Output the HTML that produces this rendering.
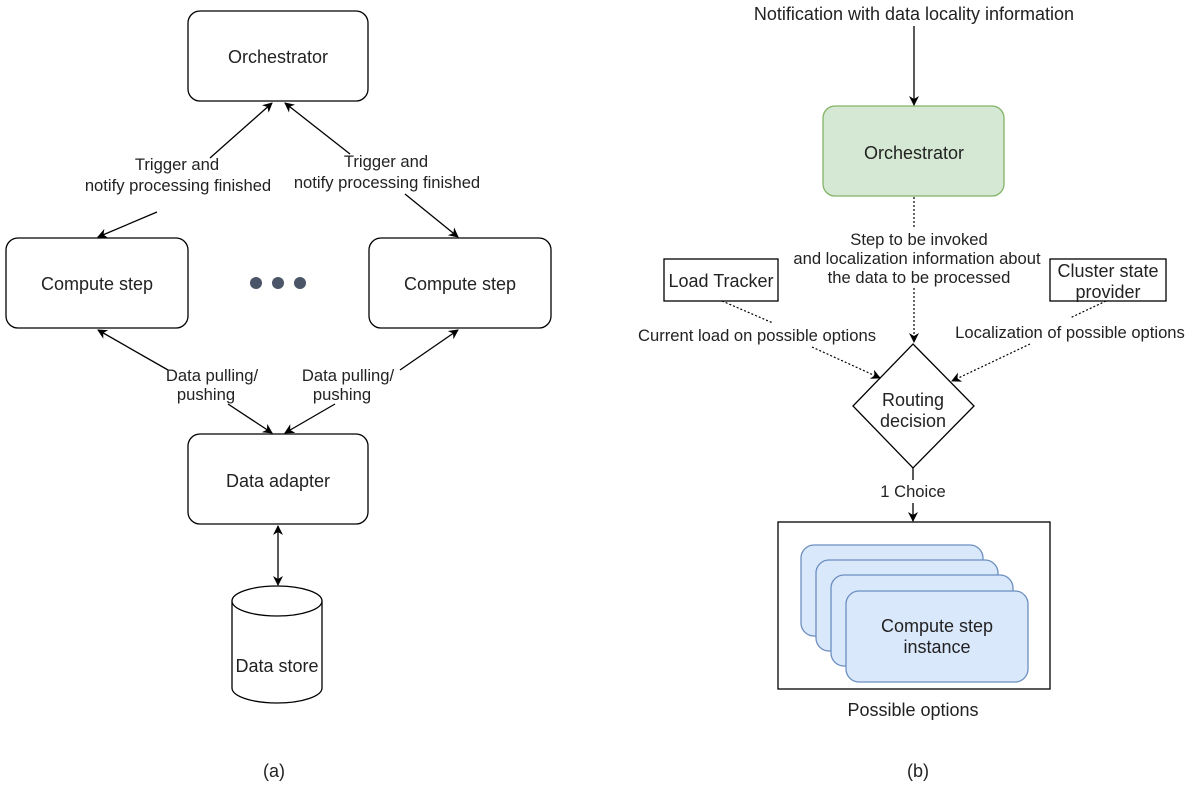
<!DOCTYPE html>
<html><head><style>body{margin:0;background:#fff}svg{display:block}text{font-family:"Liberation Sans",sans-serif;font-size:18px;fill:#222}text.s{font-size:16.6px}</style></head><body>
<svg width="1189" height="785" viewBox="0 0 1189 785" xmlns="http://www.w3.org/2000/svg">
<defs><marker id="a" markerWidth="10" markerHeight="10" refX="9" refY="5" orient="auto" markerUnits="userSpaceOnUse"><path d="M0,0 L10,5 L0,10 L3,5 Z" fill="#000"/></marker></defs>
<g fill="#fff" stroke="#000" stroke-width="1.3">
<rect x="188" y="11" width="180" height="90" rx="12"/>
<rect x="6" y="238" width="182" height="90" rx="12"/>
<rect x="369" y="238" width="182" height="90" rx="12"/>
<rect x="188" y="434" width="180" height="90" rx="12"/>
<path d="M232,601 L232,688 A45,15 0 0 0 322,688 L322,601"/>
<ellipse cx="277" cy="601" rx="45" ry="15"/>
</g>
<g fill="#4a5568"><circle cx="256" cy="283" r="6"/><circle cx="278" cy="283" r="6"/><circle cx="300" cy="283" r="6"/></g>
<g stroke="#000" stroke-width="1.3" fill="none">
<line x1="210" y1="158" x2="272" y2="103" marker-end="url(#a)"/>
<line x1="157" y1="212" x2="98" y2="237" marker-end="url(#a)"/>
<line x1="350" y1="154" x2="285" y2="103" marker-end="url(#a)"/>
<line x1="405" y1="194" x2="458" y2="237" marker-end="url(#a)"/>
<line x1="168" y1="370" x2="98" y2="330" marker-end="url(#a)"/>
<line x1="228" y1="404" x2="272" y2="433" marker-end="url(#a)"/>
<line x1="400" y1="370" x2="458" y2="330" marker-end="url(#a)"/>
<line x1="335" y1="404" x2="285" y2="433" marker-end="url(#a)"/>
<line x1="278" y1="550" x2="278" y2="526" marker-end="url(#a)"/>
<line x1="278" y1="550" x2="278" y2="585" marker-end="url(#a)"/>
</g>
<g text-anchor="middle">
<text x="278" y="63">Orchestrator</text>
<text x="97" y="290">Compute step</text>
<text x="460" y="290">Compute step</text>
<text x="278" y="487">Data adapter</text>
<text x="277" y="672">Data store</text>
<text class="s" x="177" y="170">Trigger and</text>
<text class="s" x="178" y="191">notify processing finished</text>
<text class="s" x="386" y="167">Trigger and</text>
<text class="s" x="387" y="188">notify processing finished</text>
<text class="s" x="212" y="381">Data pulling/</text>
<text class="s" x="206" y="400">pushing</text>
<text class="s" x="348" y="381">Data pulling/</text>
<text class="s" x="342" y="400">pushing</text>
<text x="274" y="777">(a)</text>
</g>
<rect x="823" y="106" width="181" height="90" rx="12" fill="#d5e8d4" stroke="#82b366" stroke-width="1.3"/>
<rect x="664" y="259" width="114" height="42" fill="#fff" stroke="#000" stroke-width="1.3"/>
<rect x="1050" y="259" width="116" height="42" fill="#fff" stroke="#000" stroke-width="1.3"/>
<path d="M913,344 L974,406 L913,468 L853,406 Z" fill="#fff" stroke="#000" stroke-width="1.3"/>
<rect x="778" y="522" width="272" height="167" fill="#fff" stroke="#000" stroke-width="1.3"/>
<g fill="#dae8fc" stroke="#6c8ebf" stroke-width="1.3">
<rect x="801" y="545" width="182" height="91" rx="13"/>
<rect x="816" y="560" width="182" height="91" rx="13"/>
<rect x="831" y="575" width="182" height="91" rx="13"/>
<rect x="846" y="591" width="182" height="91" rx="13"/>
</g>
<g stroke="#000" stroke-width="1.3" fill="none">
<line x1="914" y1="26" x2="914" y2="105" marker-end="url(#a)"/>
<line x1="913" y1="468" x2="913" y2="480"/>
<line x1="913" y1="503" x2="913" y2="521" marker-end="url(#a)"/>
</g>
<g stroke="#000" stroke-width="1.2" fill="none" stroke-dasharray="2,2">
<line x1="914" y1="197" x2="914" y2="228"/>
<line x1="914" y1="288" x2="914" y2="342" marker-end="url(#a)"/>
<line x1="722" y1="301" x2="773" y2="323"/>
<line x1="812" y1="347" x2="880" y2="378" marker-end="url(#a)"/>
<line x1="1106" y1="301" x2="1070" y2="318"/>
<line x1="1030" y1="344" x2="952" y2="381" marker-end="url(#a)"/>
</g>
<g text-anchor="middle">
<text x="914" y="20">Notification with data locality information</text>
<text x="914" y="159">Orchestrator</text>
<text class="s" x="919" y="245">Step to be invoked</text>
<text class="s" x="917" y="264">and localization information about</text>
<text class="s" x="919" y="283">the data to be processed</text>
<text x="721" y="287">Load Tracker</text>
<text x="1108" y="277">Cluster state</text>
<text x="1108" y="298">provider</text>
<text class="s" x="757" y="341">Current load on possible options</text>
<text class="s" x="1070" y="338">Localization of possible options</text>
<text x="913" y="406">Routing</text>
<text x="913" y="427">decision</text>
<text class="s" x="913" y="497">1 Choice</text>
<text x="937" y="632">Compute step</text>
<text x="937" y="653">instance</text>
<text x="913" y="716">Possible options</text>
<text x="918" y="777">(b)</text>
</g>
</svg>
</body></html>
